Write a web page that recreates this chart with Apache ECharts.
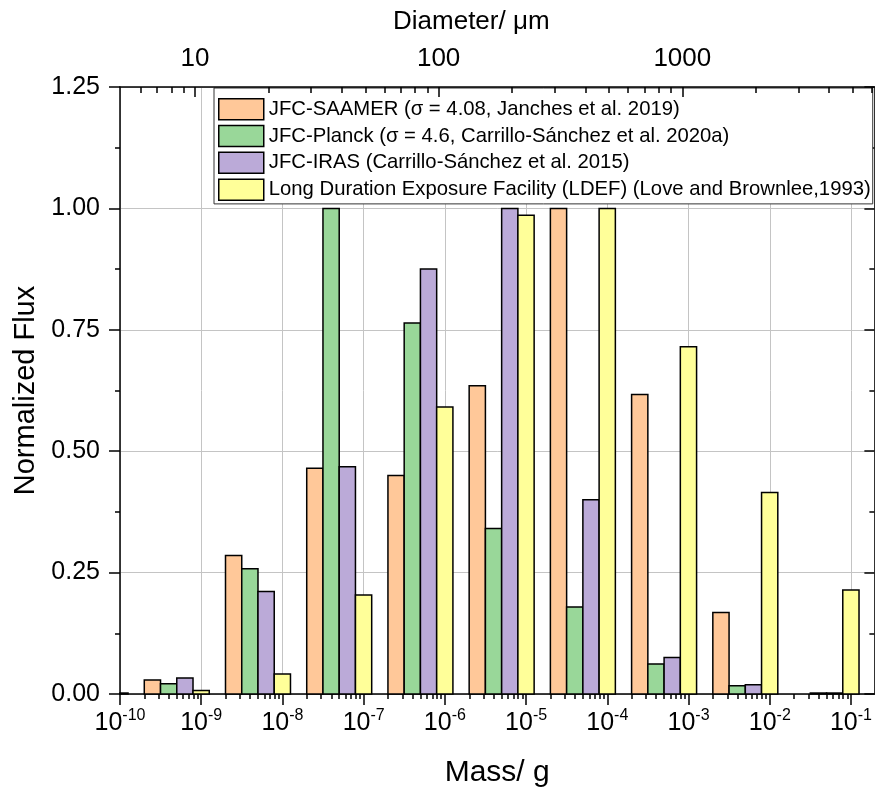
<!DOCTYPE html>
<html><head><meta charset="utf-8">
<script src="https://cdn.jsdelivr.net/npm/echarts@6/dist/echarts.min.js"></script>
<style>html,body{margin:0;padding:0;background:#fff}#c{width:875px;height:793px}</style>
</head><body><div id="c"></div>
<script>
// ---- data ----
const binCentersMass = [5e-11, 5e-10, 5e-9, 5e-8, 5e-7, 5e-6, 5e-5, 5e-4, 5e-3, 5e-2]; // g
const seriesNames = [
  'JFC-SAAMER (σ = 4.08, Janches et al. 2019)',
  'JFC-Planck (σ = 4.6, Carrillo-Sánchez et al. 2020a)',
  'JFC-IRAS (Carrillo-Sánchez et al. 2015)',
  'Long Duration Exposure Facility (LDEF) (Love and Brownlee,1993)'
];
const saamer = [0, 0.029, 0.285, 0.465, 0.450, 0.635, 1.000, 0.617, 0.168, 0];
const planck = [0, 0.021, 0.258, 1.000, 0.764, 0.341, 0.179, 0.062, 0.017, 0.002];
const iras   = [0, 0.033, 0.211, 0.468, 0.875, 1.000, 0.400, 0.075, 0.019, 0.002];
const ldef   = [0.002, 0.007, 0.041, 0.204, 0.591, 0.986, 1.000, 0.715, 0.415, 0.214];
const massMajorExponents = [-10, -9, -8, -7, -6, -5, -4, -3, -2, -1];
const massMinorMultipliers = [2, 3, 4, 5, 6, 7, 8, 9];
const diameterMajorTicks = [10, 100, 1000]; // µm
const diameterMinorTicks = [6, 7, 8, 9, 20, 30, 40, 50, 60, 70, 80, 90, 200, 300, 400, 500, 600, 700, 800, 900, 2000, 3000, 4000, 5000, 6000];

// ---- styling / geometry constants ----
const DENSITY = 1.6; // g/cm3, sphere
const X_MIN = -10, X_MAX = -0.712;
const BAR_W = 0.2; // decades
const BAR_OFFSETS = [-0.3, -0.1, 0.1, 0.3];
const COLORS = ['#FFC899', '#99D799', '#BBAAD8', '#FFFF99'];
const FONT = 'Liberation Sans, Arial, Helvetica, sans-serif';

const diamToExp = d => Math.log10(DENSITY * Math.PI / 6) + 3 * Math.log10(d) - 12;
const expToDiam = v => Math.pow(10, (v + 12 - Math.log10(DENSITY * Math.PI / 6)) / 3);

const minorMassExps = [];
massMajorExponents.forEach(e => massMinorMultipliers.forEach(k => {
  const v = e + Math.log10(k);
  if (v < X_MAX) minorMassExps.push(v);
}));

const allSeries = [saamer, planck, iras, ldef];

function makeRender(idx) {
  return function (params, api) {
    const c = api.value(0), v = api.value(1);
    if (!(v > 0)) return null;
    const x0 = c + BAR_OFFSETS[idx] - BAR_W / 2;
    const p0 = api.coord([x0, v]);
    const p1 = api.coord([x0 + BAR_W, 0]);
    const cs = params.coordSys;
    const shape = echarts.graphic.clipRectByRect(
      { x: p0[0], y: p0[1], width: p1[0] - p0[0], height: p1[1] - p0[1] },
      { x: cs.x, y: cs.y, width: cs.width, height: cs.height });
    if (!shape) return null;
    return { type: 'rect', shape: shape,
      style: { fill: api.visual('color'), stroke: '#000', lineWidth: 1.5 } };
  };
}

const axisLineStyle = { color: '#000', width: 1.5 };

const chart = echarts.init(document.getElementById('c'), null, { renderer: 'canvas' });
chart.setOption({
  animation: false,
  backgroundColor: '#fff',
  textStyle: { fontFamily: FONT },
  grid: { left: 120, top: 87, width: 756, height: 608, containLabel: false },
  graphic: [
    { type: 'text', left: 393, top: 9, z: 10,
      style: { text: 'Diameter/ μm', fontSize: 26, fill: '#000', fontFamily: FONT } }
  ],
  legend: {
    orient: 'vertical', left: 214, top: 88,
    itemWidth: 45, itemHeight: 21, itemGap: 4.3,
    padding: [10, 2, 3, 4],
    backgroundColor: '#fff', borderColor: '#333', borderWidth: 1, borderRadius: 0,
    icon: 'rect',
    itemStyle: { borderColor: '#000', borderWidth: 1.5 },
    textStyle: { fontFamily: FONT, fontSize: 20.3, lineHeight: 21, color: '#000' },
    data: seriesNames
  },
  xAxis: [
    { type: 'value', position: 'bottom', min: X_MIN, max: X_MAX, interval: 1,
      name: 'Mass/ g', nameLocation: 'middle', nameGap: 64,
      nameTextStyle: { fontSize: 30, color: '#000', fontFamily: FONT },
      axisLine: { show: true, onZero: false, lineStyle: axisLineStyle },
      axisTick: { show: true, length: 11, lineStyle: axisLineStyle },
      axisLabel: { margin: 14, color: '#000', fontFamily: FONT,
        formatter: v => '{b|10}{s|' + Math.round(v) + '}',
        rich: { b: { fontSize: 25, lineHeight: 30, fontFamily: FONT, color: '#000' },
                s: { fontSize: 16, verticalAlign: 'top', fontFamily: FONT, color: '#000' } } },
      splitLine: { show: true, lineStyle: { color: '#c4c4c4', width: 1 } } },
    { type: 'value', position: 'bottom', min: X_MIN, max: X_MAX,
      axisLine: { show: false, onZero: false },
      axisTick: { show: true, length: 5, customValues: minorMassExps, lineStyle: axisLineStyle },
      axisLabel: { show: false }, splitLine: { show: false } },
    { type: 'value', position: 'top', min: X_MIN, max: X_MAX, z: 6,
      axisLine: { show: true, onZero: false, lineStyle: axisLineStyle },
      axisTick: { show: true, inside: true, length: 10, customValues: diameterMajorTicks.map(diamToExp), lineStyle: axisLineStyle },
      axisLabel: { show: true, margin: 15, fontSize: 26, color: '#000', fontFamily: FONT,
        customValues: diameterMajorTicks.map(diamToExp),
        formatter: v => String(Math.round(expToDiam(v))) },
      splitLine: { show: false } },
    { type: 'value', position: 'top', min: X_MIN, max: X_MAX, z: 6,
      axisLine: { show: false, onZero: false },
      axisTick: { show: true, inside: true, length: 6, customValues: diameterMinorTicks.map(diamToExp), lineStyle: axisLineStyle },
      axisLabel: { show: false }, splitLine: { show: false } }
  ],
  yAxis: [
    { type: 'value', position: 'left', min: 0, max: 1.25, interval: 0.25,
      name: 'Normalized Flux', nameLocation: 'middle', nameGap: 76,
      nameTextStyle: { fontSize: 29, color: '#000', fontFamily: FONT },
      axisLine: { show: true, onZero: false, lineStyle: axisLineStyle },
      axisTick: { show: true, length: 11, lineStyle: axisLineStyle },
      minorTick: { show: true, splitNumber: 2, length: 5, lineStyle: axisLineStyle },
      axisLabel: { margin: 20, fontSize: 25, color: '#000', fontFamily: FONT, formatter: v => v.toFixed(2) },
      splitLine: { show: true, lineStyle: { color: '#c4c4c4', width: 1 } } },
    { type: 'value', position: 'right', min: 0, max: 1.25, interval: 0.25,
      axisLine: { show: true, onZero: false, lineStyle: axisLineStyle },
      axisTick: { show: true, inside: true, length: 10, lineStyle: axisLineStyle },
      minorTick: { show: true, splitNumber: 2, length: 5, lineStyle: axisLineStyle },
      axisLabel: { show: false }, splitLine: { show: false } }
  ],
  series: allSeries.map((arr, i) => ({
    type: 'custom', name: seriesNames[i],
    xAxisIndex: 0, yAxisIndex: 0,
    itemStyle: { color: COLORS[i], borderColor: '#000', borderWidth: 1.5 },
    renderItem: makeRender(i),
    encode: { x: 0, y: 1 },
    data: binCentersMass.map((m, j) => [Math.log10(m), arr[j]])
  }))
});
</script></body></html>
